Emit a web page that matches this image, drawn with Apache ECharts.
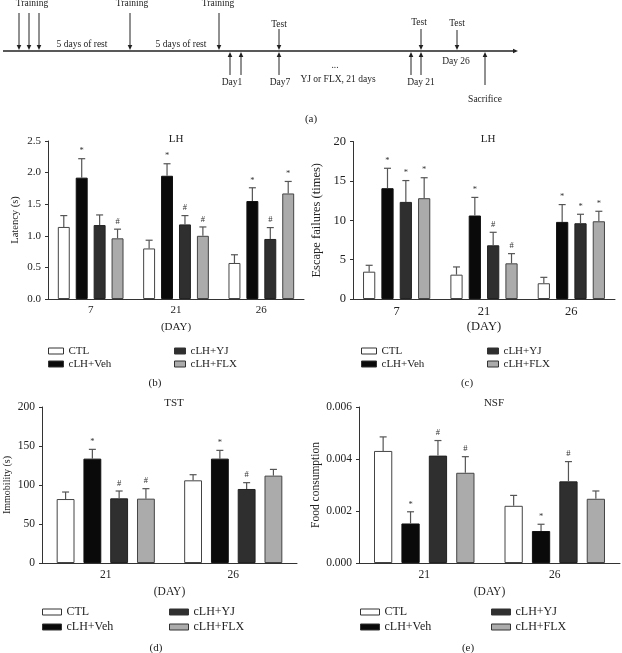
<!DOCTYPE html>
<html><head><meta charset="utf-8">
<script src="https://cdn.jsdelivr.net/npm/echarts@6/dist/echarts.min.js"></script>
<style>html,body{margin:0;padding:0;background:#fff}#c{width:622px;height:653px}</style>
</head><body><div id="c"></div>
<script>
const FONT = 'Liberation Serif';
const groupNames = ['CTL', 'cLH+Veh', 'cLH+YJ', 'cLH+FLX'];

// (b) LH latency
const latencyDays = ['7', '21', '26'];
const latencyMeans = [[1.14, 0.80, 0.57], [1.92, 1.95, 1.55], [1.17, 1.18, 0.95], [0.96, 1.00, 1.67]];
const latencySEM   = [[0.18, 0.13, 0.13], [0.30, 0.19, 0.21], [0.16, 0.14, 0.18], [0.145, 0.14, 0.19]];
const latencySig   = [['', '', ''], ['*', '*', '*'], ['', '#', '#'], ['#', '#', '*']];

// (c) LH escape failures
const escapeDays = ['7', '21', '26'];
const escapeMeans = [[3.47, 3.09, 2.0], [14.07, 10.6, 9.79], [12.33, 6.82, 9.62], [12.8, 4.53, 9.87]];
const escapeSEM   = [[0.81, 0.98, 0.75], [2.53, 2.3, 2.2], [2.71, 1.65, 1.14], [2.6, 1.23, 1.27]];
const escapeSig   = [['', '', ''], ['*', '*', '*'], ['*', '#', '*'], ['*', '#', '*']];

// (d) TST immobility
const tstDays = ['21', '26'];
const tstMeans = [[82, 106], [133.8, 133.8], [82.9, 94.9], [82.5, 112]];
const tstSEM   = [[9, 7.2], [11.9, 10.6], [9.4, 8.1], [12.8, 8]];
const tstSig   = [['', ''], ['*', '*'], ['#', '#'], ['#', '']];

// (e) NSF food consumption
const nsfDays = ['21', '26'];
const nsfMeans = [[0.00431, 0.0022], [0.00152, 0.00123], [0.00413, 0.00314], [0.00347, 0.00247]];
const nsfSEM   = [[0.00054, 0.0004], [0.00045, 0.00026], [0.00058, 0.00076], [0.00062, 0.0003]];
const nsfSig   = [['', ''], ['*', '*'], ['#', '#'], ['#', '']];

// (a) timeline schematic (schematic units)
const timelineArrows = [
  [3, 51, 518, 51],
  [19, 13, 19, 50], [29, 13, 29, 50], [39, 13, 39, 50], [130, 13, 130, 50], [219, 13, 219, 50],
  [279, 29, 279, 50], [421, 29, 421, 50], [457, 30, 457, 50],
  [230, 75, 230, 52], [241, 75, 241, 52], [279, 75, 279, 52], [411, 75, 411, 52], [421, 75, 421, 52],
  [485, 85, 485, 52]
];
const timelineLabels = [
  ['Training', 32, 3], ['Training', 132, 3], ['Training', 218, 3],
  ['5 days of rest', 82, 44], ['5 days of rest', 181, 44],
  ['Test', 279, 24], ['Test', 419, 22], ['Test', 457, 23],
  ['Day1', 232, 82], ['Day7', 280, 82], ['...', 335, 65], ['YJ or FLX, 21 days', 338, 79],
  ['Day 21', 421, 82], ['Day 26', 456, 61], ['Sacrifice', 485, 99]
];

const barColors = ['#ffffff', '#0a0a0a', '#2f2f2f', '#ababab'];
const barBorders = ['#444', '#111', '#222', '#444'];
const BW = 0.14, GAP = 0.5;

const panels = [
  {cats: latencyDays, means: latencyMeans, sems: latencySEM, sigs: latencySig, max: 2.5, interval: 0.5, fmt: v => v.toFixed(1), yName: 'Latency (s)',
   nameGap: 27, tickFs: 11, yNameFs: 10.5, xNameGap: 23,
   grid: {left: 48, top: 141, width: 256, height: 158}},
  {cats: escapeDays, means: escapeMeans, sems: escapeSEM, sigs: escapeSig, max: 20, interval: 5, fmt: v => String(v), yName: 'Escape failures (times)',
   nameGap: 30, tickFs: 12.5, yNameFs: 12.5, xNameGap: 21,
   grid: {left: 353, top: 141.5, width: 262, height: 157.5}},
  {cats: tstDays, means: tstMeans, sems: tstSEM, sigs: tstSig, max: 200, interval: 50, fmt: v => String(v), yName: 'Immobility (s)',
   nameGap: 30, tickFs: 11.5, yNameFs: 10, xNameGap: 23,
   grid: {left: 42, top: 407, width: 255, height: 156}},
  {cats: nsfDays, means: nsfMeans, sems: nsfSEM, sigs: nsfSig, max: 0.006, interval: 0.002, fmt: v => v.toFixed(3), yName: 'Food consumption',
   nameGap: 37, tickFs: 11.5, yNameFs: 11.5, xNameGap: 23,
   grid: {left: 359, top: 407, width: 261, height: 156}}
];

const grids = [{left: 0, top: 0, width: 622, height: 130}];
const xAxes = [{gridIndex: 0, type: 'value', min: 0, max: 622, show: false}];
const yAxes = [{gridIndex: 0, type: 'value', min: 0, max: 130, inverse: true, show: false}];
const series = [];

series.push({
  type: 'custom', xAxisIndex: 0, yAxisIndex: 0, silent: true, z: 5,
  data: timelineArrows,
  renderItem: function (params, api) {
    const p1 = api.coord([api.value(0), api.value(1)]);
    const p2 = api.coord([api.value(2), api.value(3)]);
    const dx = p2[0] - p1[0], dy = p2[1] - p1[1];
    const len = Math.sqrt(dx * dx + dy * dy);
    const ux = dx / len, uy = dy / len;
    const hl = 5, hw = 2.3;
    const bx = p2[0] - ux * hl, by = p2[1] - uy * hl;
    return {type: 'group', children: [
      {type: 'line', shape: {x1: p1[0], y1: p1[1], x2: bx, y2: by}, style: {stroke: '#222', lineWidth: params.dataIndex === 0 ? 1.3 : 1}},
      {type: 'polygon', shape: {points: [[p2[0], p2[1]], [bx - uy * hw, by + ux * hw], [bx + uy * hw, by - ux * hw]]}, style: {fill: '#222'}}
    ]};
  }
});
series.push({
  type: 'custom', xAxisIndex: 0, yAxisIndex: 0, silent: true, z: 5,
  data: timelineLabels.map(l => [l[1], l[2]]),
  renderItem: function (params, api) {
    const p = api.coord([api.value(0), api.value(1)]);
    return {type: 'text', x: p[0], y: p[1], style: {text: timelineLabels[params.dataIndex][0], font: '9.5px "' + FONT + '"', fill: '#222', align: 'center', verticalAlign: 'middle'}};
  }
});

panels.forEach(function (pn, k) {
  const gi = k + 1;
  const tickTxt = {fontFamily: FONT, fontSize: pn.tickFs, color: '#222'};
  grids.push(pn.grid);
  xAxes.push({
    gridIndex: gi, type: 'category', data: pn.cats,
    axisLine: {lineStyle: {color: '#333', width: 1}},
    axisTick: {alignWithLabel: true, length: 3, lineStyle: {color: '#333'}},
    axisLabel: Object.assign({margin: 6}, tickTxt),
    name: '(DAY)', nameLocation: 'middle', nameGap: pn.xNameGap, nameTextStyle: tickTxt
  });
  yAxes.push({
    gridIndex: gi, type: 'value', min: 0, max: pn.max, interval: pn.interval,
    axisLine: {show: true, lineStyle: {color: '#333', width: 1}},
    axisTick: {show: true, length: 3, lineStyle: {color: '#333'}},
    splitLine: {show: false},
    axisLabel: Object.assign({margin: 7, formatter: pn.fmt}, tickTxt),
    name: pn.yName, nameLocation: 'middle', nameGap: pn.nameGap,
    nameTextStyle: {fontFamily: FONT, fontSize: pn.yNameFs, color: '#222'}
  });
  for (let i = 0; i < 4; i++) {
    series.push({
      type: 'bar', name: groupNames[i], xAxisIndex: gi, yAxisIndex: gi,
      data: pn.means[i], barWidth: (BW * 100) + '%', barGap: (GAP * 100) + '%',
      itemStyle: {color: barColors[i], borderColor: barBorders[i], borderWidth: 1}, z: 2
    });
  }
  for (let i = 0; i < 4; i++) {
    const sigArr = pn.sigs[i];
    series.push({
      type: 'custom', xAxisIndex: gi, yAxisIndex: gi, silent: true, z: 4,
      data: pn.cats.map((c, j) => [j, pn.means[i][j], pn.means[i][j] + pn.sems[i][j]]),
      renderItem: function (params, api) {
        const j = api.value(0);
        const base = api.coord([j, api.value(1)]);
        const top = api.coord([j, api.value(2)]);
        const band = api.size([1, 0])[0];
        const bw = band * BW, gap = bw * GAP, total = 4 * bw + 3 * gap;
        const x = base[0] - total / 2 + bw / 2 + i * (bw + gap);
        const cap = 3.5;
        const ch = [
          {type: 'line', shape: {x1: x, y1: base[1], x2: x, y2: top[1]}, style: {stroke: '#555', lineWidth: 1.2}},
          {type: 'line', shape: {x1: x - cap, y1: top[1], x2: x + cap, y2: top[1]}, style: {stroke: '#555', lineWidth: 1.2}}
        ];
        const s = sigArr[params.dataIndex];
        if (s) ch.push({type: 'text', x: x, y: top[1] - 3, style: {text: s, font: '8.5px "' + FONT + '"', fill: '#333', align: 'center', verticalAlign: 'bottom'}});
        return {type: 'group', children: ch};
      }
    });
  }
});

function legendCol(left, top, names, w, h, lh, gap, fs) {
  return {left: left, top: top, orient: 'vertical', data: names, icon: 'rect', itemWidth: w, itemHeight: h,
    itemGap: 0, itemTextGap: gap, selectedMode: false, padding: 0,
    itemStyle: {borderColor: '#333', borderWidth: 1},
    textStyle: {fontFamily: FONT, fontSize: fs, color: '#222', lineHeight: lh}};
}
const legends = [
  legendCol(48, 344.5, ['CTL', 'cLH+Veh'], 15, 6, 13, 10, 11),
  legendCol(174, 344.5, ['cLH+YJ', 'cLH+FLX'], 11, 6, 13, 10, 11),
  legendCol(361, 344.5, ['CTL', 'cLH+Veh'], 15, 6, 13, 10, 11),
  legendCol(487, 344.5, ['cLH+YJ', 'cLH+FLX'], 11, 6, 13, 10, 11),
  legendCol(42, 604.5, ['CTL', 'cLH+Veh'], 19, 6, 15, 6, 12),
  legendCol(169, 604.5, ['cLH+YJ', 'cLH+FLX'], 19, 6, 15, 6, 12),
  legendCol(360, 604.5, ['CTL', 'cLH+Veh'], 19, 6, 15, 6, 12),
  legendCol(491, 604.5, ['cLH+YJ', 'cLH+FLX'], 19, 6, 15, 6, 12)
];

const textItems = [
  ['(a)', 311, 119], ['LH', 176, 139], ['LH', 488, 139], ['TST', 174, 403], ['NSF', 494, 403],
  ['(b)', 155, 383], ['(c)', 467, 383], ['(d)', 156, 648], ['(e)', 468, 648]
];
const graphic = textItems.map(t => ({type: 'text', x: t[1], y: t[2], silent: true,
  style: {text: t[0], font: '11px "' + FONT + '"', fill: '#222', align: 'center', verticalAlign: 'middle'}}));

const chart = echarts.init(document.getElementById('c'), null, {renderer: 'canvas'});
chart.setOption({
  animation: false,
  backgroundColor: '#fff',
  grid: grids, xAxis: xAxes, yAxis: yAxes, series: series,
  legend: legends, graphic: graphic
});
</script></body></html>
